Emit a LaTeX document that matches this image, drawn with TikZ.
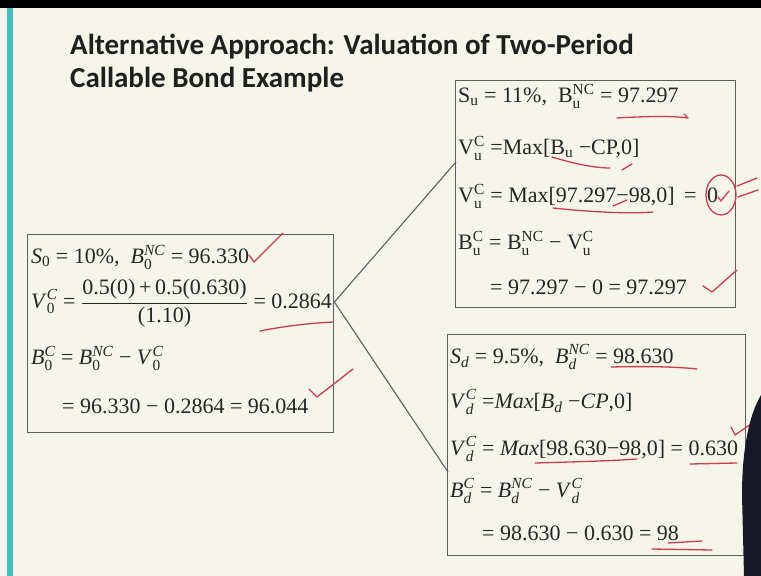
\documentclass[tikz,border=0pt]{standalone}
\usepackage{amsmath}
\usepackage{fontspec}
\setmainfont{Liberation Serif}
\newfontfamily\titlefont{Carlito}
\usetikzlibrary{calc}
\definecolor{slidebg}{RGB}{246,245,234}
\definecolor{slideteal}{RGB}{72,190,192}
\definecolor{framegray}{RGB}{95,95,95}
\definecolor{inkred}{RGB}{205,60,75}
\definecolor{darkblob}{RGB}{22,24,40}
\newcommand\sm[3]{\ensuremath{\text{#1}_{\text{#2}}^{\text{#3}}}}
\newcommand\sbx[2]{\ensuremath{\text{#1}_{\text{#2}}}}
\newcommand\ti[1]{\textit{#1}}
\tikzset{
  boxst/.style={draw=framegray, line width=1.4pt, inner sep=0pt, anchor=north west},
  txt/.style={anchor=west, inner sep=0pt, font=\fontsize{22}{26}\selectfont, text=black!85},
  link/.style={draw=framegray, line width=1.1pt},
  ink/.style={draw=inkred, line width=1.3pt, line cap=round, line join=round},
}
\begin{document}
\begin{tikzpicture}[x=1pt,y=-1pt]
\useasboundingbox (0,0) rectangle (761,576);
\fill[slidebg] (0,0) rectangle (761,576);
\fill[black] (0,0) rectangle (761,8);
\fill[slideteal] (7,8) rectangle (13,576);

% title
\node[anchor=north west, inner sep=0pt, align=left, text=black!88,
      font=\titlefont\bfseries\fontsize{29}{33}\selectfont] (title) at (70,34)
  {Alternative Approach: Valuation of Two-Period\\Callable Bond Example};

% boxes
\node[boxst, minimum width=306pt, minimum height=198pt] (b0) at (27,234) {};
\node[boxst, minimum width=280pt, minimum height=227pt] (bu) at (455,80) {};
\node[boxst, minimum width=298pt, minimum height=221pt] (bd) at (447,334) {};

% left box text
\node[txt] (l1) at (31,257) {\sbx{\ti{S}}{0} = 10\%,\enspace \sm{\ti{B}}{0}{\ti{NC}} = 96.330};
\node[txt] (l2) at (31,303) {\sm{\ti{V}}{0}{\ti{C}} = $\dfrac{\text{0.5(0)\,+\,0.5(0.630)}}{\text{(1.10)}}$ = 0.2864};
\node[txt] (l3) at (31,358) {\sm{\ti{B}}{0}{\ti{C}} = \sm{\ti{B}}{0}{\ti{NC}} − \sm{\ti{V}}{0}{\ti{C}}};
\node[txt] (l4) at (62,406) {= 96.330 − 0.2864 = 96.044};

% upper right box text
\node[txt] (u1) at (458,96) {\sbx{S}{u} = 11\%,\enspace \sm{B}{u}{NC} = 97.297};
\node[txt] (u2) at (458,148) {\sm{V}{u}{C} =Max[\sbx{B}{u} −CP,0]};
\node[txt] (u3) at (458,196) {\sm{V}{u}{C} = Max[97.297−98,0]\hspace{4pt} =\hspace{5pt} 0};
\node[txt] (u4) at (458,243) {\sm{B}{u}{C} = \sm{B}{u}{NC} − \sm{V}{u}{C}};
\node[txt] (u5) at (490,287) {= 97.297 − 0 = 97.297};

% lower right box text
\node[txt] (d1) at (450,357) {\sbx{\ti{S}}{\ti{d}} = 9.5\%,\enspace \sm{\ti{B}}{\ti{d}}{\ti{NC}} = 98.630};
\node[txt] (d2) at (450,402) {\sm{\ti{V}}{\ti{d}}{\ti{C}} =\ti{Max}[\sbx{\ti{B}}{\ti{d}} −\ti{CP},0]};
\node[txt] (d3) at (450,449) {\sm{\ti{V}}{\ti{d}}{\ti{C}} = \ti{Max}[98.630−98,0] = 0.630};
\node[txt] (d4) at (450,491) {\sm{\ti{B}}{\ti{d}}{\ti{C}} = \sm{\ti{B}}{\ti{d}}{\ti{NC}} − \sm{\ti{V}}{\ti{d}}{\ti{C}}};
\node[txt] (d5) at (482,533) {= 98.630 − 0.630 = 98};

% connectors
\coordinate (fan) at ($(b0.north east)+(0,68)$);
\coordinate (uend) at ($(bu.north west)+(1,82)$);
\coordinate (dend) at ($(bd.north west)+(1,138)$);
\draw[link] (fan) -- (uend);
\draw[link] (fan) -- (dend);

% red handwritten marks
\draw[ink] (249,255) -- (254,262) -- (283,233);
\draw[ink] (260,331) .. controls (290,325) and (315,323) .. (333,322);
\draw[ink] (309,389) -- (317,397) -- (353,369);
\draw[ink] (617,118) .. controls (650,116) and (675,116) .. (688,118) -- (684,114);
\draw[ink] (552,157) .. controls (575,164) and (595,168) .. (610,168);
\draw[ink] (622,170) -- (632,164);
\draw[ink] (553,208) .. controls (590,212) and (630,214) .. (653,212);
\draw[ink] (613,206) -- (627,200);
\draw[ink] (721,195) ellipse [x radius=15, y radius=20];
\draw[ink] (718,197) -- (721,201) -- (729,191);
\draw[ink] (737,186) -- (757,178);
\draw[ink] (738,197) -- (758,190);
\draw[ink] (703,286) -- (712,292) -- (737,270);
\draw[ink] (611,367) .. controls (650,366) and (680,367) .. (697,369);
\draw[ink] (535,463) .. controls (570,462) and (610,461) .. (637,459);
\draw[ink] (690,464) -- (737,463);
\draw[ink] (731,427) -- (735,435) -- (760,418);
\draw[ink] (652,549) -- (712,550);
\draw[ink] (668,543) -- (702,541);

% dark shape at right edge
\fill[darkblob] (761,395) .. controls (749,415) and (742,450) .. (742,495) -- (744,576) -- (761,576) -- cycle;
\end{tikzpicture}
\end{document}
